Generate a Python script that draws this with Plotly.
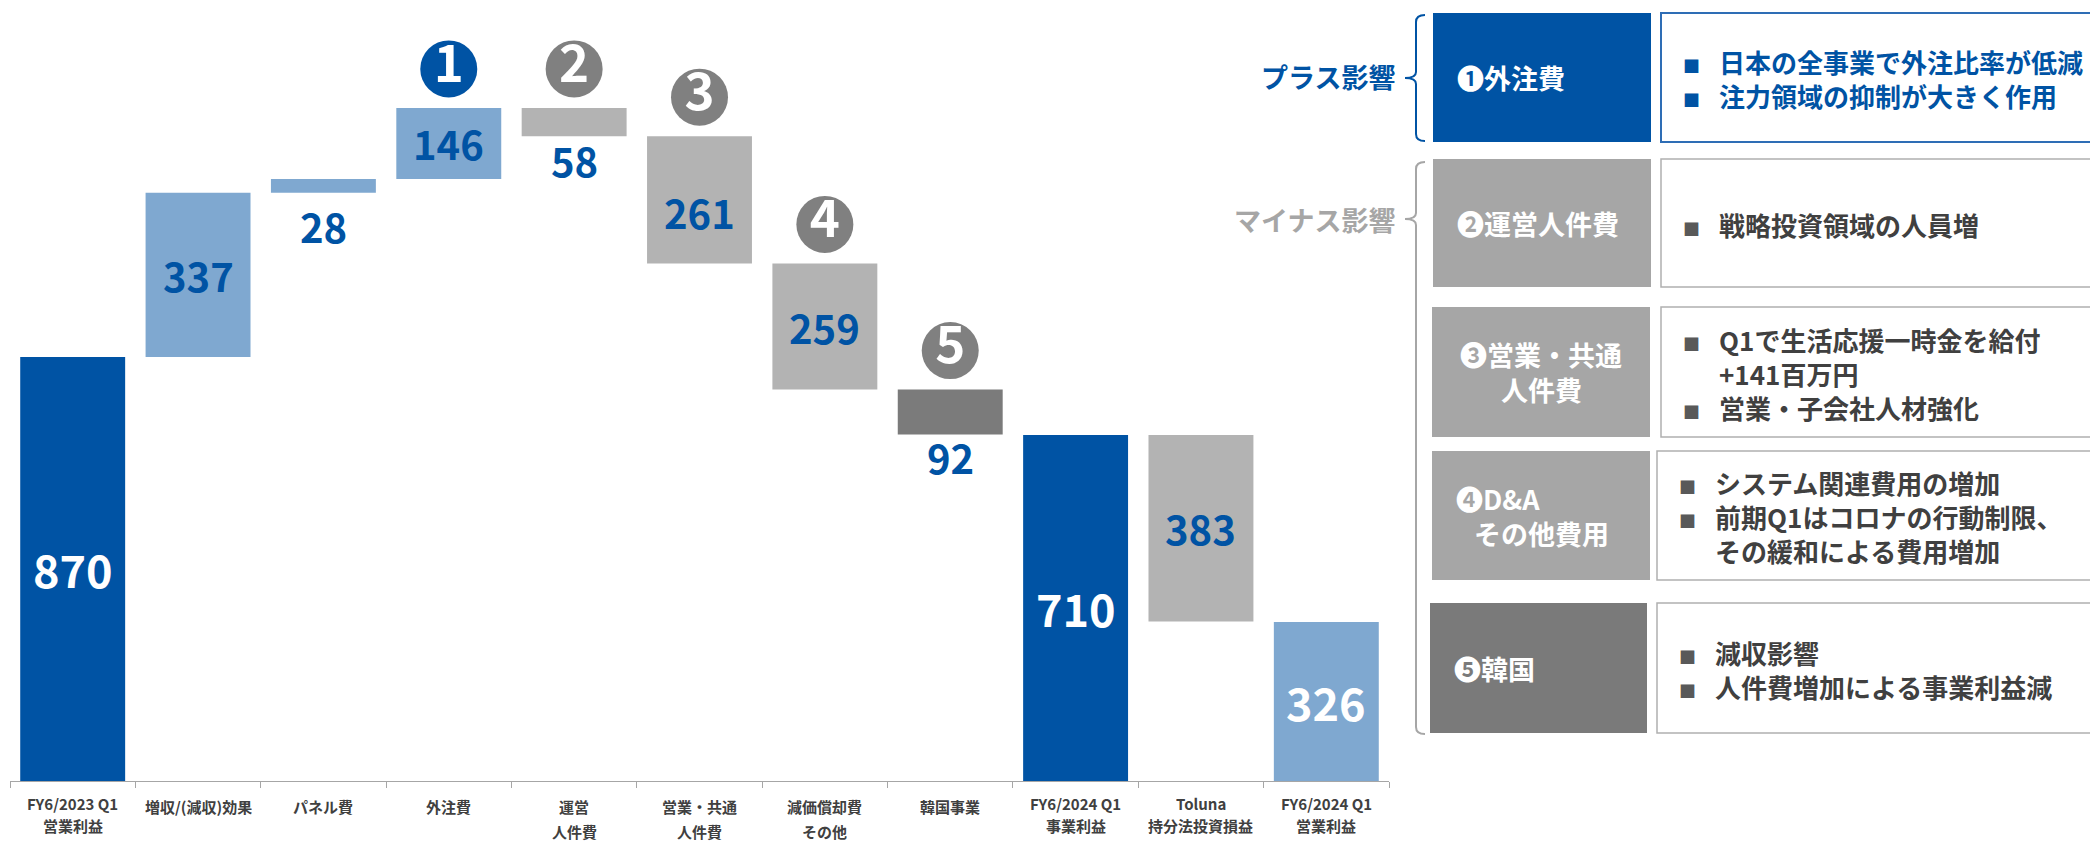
import plotly.graph_objects as go

# ---------------- data ----------------
step_labels_top = ["FY6/2023 Q1", "増収/(減収)効果", "パネル費", "外注費", "運営", "営業・共通",
                   "減価償却費", "韓国事業", "FY6/2024 Q1", "Toluna", "FY6/2024 Q1"]
step_labels_bottom = ["営業利益", "", "", "", "人件費", "人件費",
                      "その他", "", "事業利益", "持分法投資損益", "営業利益"]
step_values = [870, 337, 28, 146, -58, -261, -259, -92, 710, -383, 326]
step_is_total = [True, False, False, False, False, False, False, False, True, False, True]

badge_steps = [3, 4, 5, 6, 7]
badge_numbers = ["1", "2", "3", "4", "5"]

side_groups = ["プラス影響", "マイナス影響"]
panel_titles = [["❶外注費"], ["❷運営人件費"], ["❸営業・共通", "人件費"],
                ["❹D&A", "その他費用"], ["❺韓国"]]
panel_lines = [
    [("■", "日本の全事業で外注比率が低減"), ("■", "注力領域の抑制が大きく作用")],
    [("■", "戦略投資領域の人員増")],
    [("■", "Q1で生活応援一時金を給付"), ("", "+141百万円"), ("■", "営業・子会社人材強化")],
    [("■", "システム関連費用の増加"), ("■", "前期Q1はコロナの行動制限、"), ("", "その緩和による費用増加")],
    [("■", "減収影響"), ("■", "人件費増加による事業利益減")],
]

# ---------------- styling ----------------
W, H = 2090, 842
FONT = "Noto Sans CJK JP"
NAVY = "#0053A4"
LIGHT = "#7FA8D0"
GRAY = "#B3B3B3"
DARK = "#7B7B7B"
BOX_GRAY = "#A6A6A6"
TEXT_DARK = "#404040"

bar_colors = [NAVY, LIGHT, LIGHT, LIGHT, GRAY, GRAY, GRAY, DARK, NAVY, GRAY, LIGHT]
label_colors = ["white", NAVY, NAVY, NAVY, NAVY, NAVY, NAVY, NAVY, "white", NAVY, "white"]
label_below = [False, False, True, False, True, False, False, True, False, False, False]
label_shift = [0, 0, -33, 0, -24, -12, 0, -23, 0, 0, 0]
badge_colors = [NAVY, "#808080", "#808080", "#808080", "#808080"]
tick_tight = [True, False, False, False, False, False, False, False, True, True, True]
panel_fill = [NAVY, BOX_GRAY, BOX_GRAY, BOX_GRAY, "#7A7A7A"]
panel_title_align = [["left"], ["left"], ["center", "center"], ["left", "center"], ["left"]]

Y_BASE = 781                  # pixel row of the category axis
PX_PER_UNIT = 0.4874
Y_MAX = Y_BASE / PX_PER_UNIT


def px(x):
    return x / W


def py(y):
    return 1 - y / H


# ---------------- waterfall geometry ----------------
bases, heights = [], []
running = 0
for v, total in zip(step_values, step_is_total):
    if total:
        bases.append(0)
        heights.append(v)
        running = v
    else:
        lo = running if v > 0 else running + v
        bases.append(lo)
        heights.append(abs(v))
        running += v

x_idx = list(range(len(step_values)))

fig = go.Figure()
fig.add_trace(go.Bar(
    x=x_idx, y=heights, base=bases,
    marker=dict(color=bar_colors, line=dict(width=0)),
    hoverinfo="skip",
))

# numbered badges above the highlighted steps
badge_offset = 39 / PX_PER_UNIT
fig.add_trace(go.Scatter(
    x=badge_steps,
    y=[bases[i] + heights[i] + badge_offset for i in badge_steps],
    mode="markers+text",
    marker=dict(size=57, color=badge_colors, line=dict(width=0)),
    text=[f"<b>{n}</b>" for n in badge_numbers],
    textposition="middle center",
    textfont=dict(family=FONT, size=51, color="white"),
    hoverinfo="skip",
))

annotations = []

# value labels
for i, v in enumerate(step_values):
    total = step_is_total[i]
    size = 45 if total else 40
    if label_below[i]:
        y = bases[i]
    else:
        y = bases[i] + heights[i] / 2
    annotations.append(dict(
        x=i, y=y, xref="x", yref="y", showarrow=False,
        text=f"<b>{abs(v)}</b>", yanchor="middle", yshift=label_shift[i],
        font=dict(family=FONT, size=size, color=label_colors[i]),
    ))

# category labels
for i, (top, bottom) in enumerate(zip(step_labels_top, step_labels_bottom)):
    y1, y2 = (803, 825) if tick_tight[i] else (806, 831)
    annotations.append(dict(
        x=i, y=py(y1), xref="x", yref="paper", showarrow=False,
        text=f"<b>{top}</b>", yanchor="middle", height=20,
        font=dict(family=FONT, size=15, color=TEXT_DARK),
    ))
    if bottom:
        annotations.append(dict(
            x=i, y=py(y2), xref="x", yref="paper", showarrow=False,
            text=f"<b>{bottom}</b>", yanchor="middle", height=20,
            font=dict(family=FONT, size=15, color=TEXT_DARK),
        ))

# ---------------- explanation panel ----------------
shapes = []
rows = [(13, 142), (159, 287), (307, 437), (451, 580), (603, 733)]
box_left = [1433, 1433, 1432, 1432, 1430]
box_right = [1651, 1651, 1650, 1650, 1647]
note_left = [1661, 1661, 1661, 1657, 1657]
note_border = ["#2E6DB5", "#B0B0B0", "#B0B0B0", "#B0B0B0", "#B0B0B0"]


def brace(x, top, mid, bottom, hook=9, notch=11, color=NAVY):
    pts = [
        f"M {px(x + hook)} {py(top)}",
        f"Q {px(x)} {py(top)} {px(x)} {py(top + 7)}",
        f"L {px(x)} {py(mid - 6)}",
        f"Q {px(x)} {py(mid)} {px(x - notch)} {py(mid)}",
        f"Q {px(x)} {py(mid)} {px(x)} {py(mid + 6)}",
        f"L {px(x)} {py(bottom - 7)}",
        f"Q {px(x)} {py(bottom)} {px(x + hook)} {py(bottom)}",
    ]
    return dict(type="path", xref="paper", yref="paper", path=" ".join(pts),
                line=dict(color=color, width=2))


shapes.append(brace(1416, 15, 78, 141, color=NAVY))
shapes.append(brace(1416, 162, 219, 734, color=BOX_GRAY))

annotations.append(dict(
    x=px(1397), y=py(77), xref="paper", yref="paper", showarrow=False,
    xanchor="right", yanchor="middle", text=f"<b>{side_groups[0]}</b>",
    font=dict(family=FONT, size=27, color=NAVY),
))
annotations.append(dict(
    x=px(1397), y=py(220), xref="paper", yref="paper", showarrow=False,
    xanchor="right", yanchor="middle", text=f"<b>{side_groups[1]}</b>",
    font=dict(family=FONT, size=27, color=BOX_GRAY),
))

for k, (top, bottom) in enumerate(rows):
    shapes.append(dict(
        type="rect", xref="paper", yref="paper",
        x0=px(box_left[k]), x1=px(box_right[k]), y0=py(bottom), y1=py(top),
        fillcolor=panel_fill[k], line=dict(width=0),
    ))
    shapes.append(dict(
        type="rect", xref="paper", yref="paper",
        x0=px(note_left[k]), x1=px(W + 10), y0=py(bottom), y1=py(top),
        fillcolor="white", line=dict(color=note_border[k], width=2 if k == 0 else 1.5),
    ))
    centre = (top + bottom) / 2

    # box title
    titles = panel_titles[k]
    n = len(titles)
    for j, t in enumerate(titles):
        ty = centre + (j - (n - 1) / 2) * 35
        if panel_title_align[k][j] == "left":
            ax, anchor = box_left[k] + 22, "left"
        else:
            ax, anchor = (box_left[k] + box_right[k]) / 2, "center"
        annotations.append(dict(
            x=px(ax), y=py(ty), xref="paper", yref="paper", showarrow=False,
            xanchor=anchor, yanchor="middle", text=f"<b>{t}</b>", height=33,
            font=dict(family=FONT, size=27, color="white"),
        ))

    # bullet notes, one text block per box
    text_col = NAVY if k == 0 else TEXT_DARK
    bullet_col = NAVY if k == 0 else "#595959"
    rendered = []
    for mark, t in panel_lines[k]:
        mark_col = bullet_col if mark else "rgba(0,0,0,0)"
        rendered.append(
            f"<span style='font-size:17px;color:{mark_col}'>■</span>"
            f"<span style='font-size:19px'>\u3000</span><b>{t}</b>"
        )
    annotations.append(dict(
        x=px(note_left[k] + 20), y=py(centre + 1), xref="paper", yref="paper",
        showarrow=False, xanchor="left", yanchor="middle", align="left",
        text="<br>".join(rendered),
        font=dict(family=FONT, size=26, color=text_col),
    ))

fig.update_layout(
    width=W, height=H,
    margin=dict(l=0, r=0, t=0, b=0),
    paper_bgcolor="white", plot_bgcolor="white",
    showlegend=False,
    bargap=0.163,
    xaxis=dict(
        domain=[px(10), px(1389)], range=[-0.5, len(step_values) - 0.5],
        tickmode="array", tickvals=[i - 0.5 for i in range(len(step_values) + 1)],
        ticktext=[""] * (len(step_values) + 1),
        ticks="outside", ticklen=6, tickcolor="#A6A6A6", tickwidth=1,
        showline=True, linecolor="#A6A6A6", linewidth=1,
        showgrid=False, zeroline=False, fixedrange=True,
    ),
    yaxis=dict(
        domain=[py(Y_BASE), 1], range=[0, Y_MAX], visible=False, fixedrange=True,
    ),
    shapes=shapes,
    annotations=annotations,
)

fig.write_html("out.html")
